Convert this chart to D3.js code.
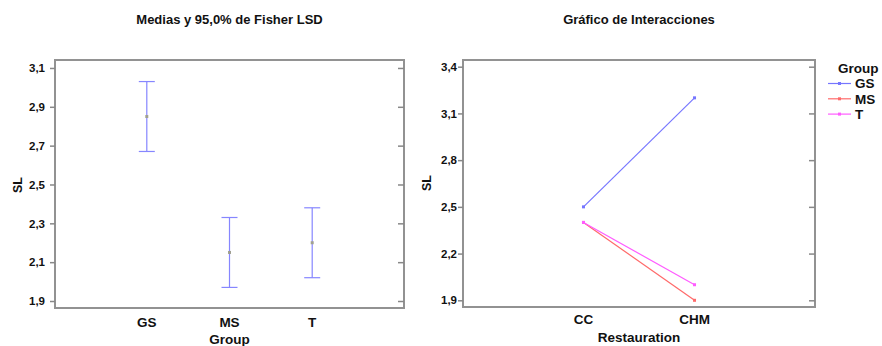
<!DOCTYPE html>
<html>
<head>
<meta charset="utf-8">
<script src="https://cdn.jsdelivr.net/npm/d3@7"></script>
<style>
  body { margin: 0; background: #fff; }
  svg text { font-family: "Liberation Sans", Arial, sans-serif; font-weight: bold; fill: #111; }
</style>
</head>
<body>
<script>
// left panel: means with 95% Fisher LSD intervals
let groups = ["GS", "MS", "T"];
let means = [2.85, 2.15, 2.20];
let lower = [2.67, 1.97, 2.02];
let upper = [3.03, 2.33, 2.38];
let leftTicks = [1.9, 2.1, 2.3, 2.5, 2.7, 2.9, 3.1];

// right panel: interaction plot
let restauration = ["CC", "CHM"];
let seriesNames = ["GS", "MS", "T"];
let gsValues = [2.50, 3.20];
let msValues = [2.40, 1.90];
let tValues = [2.40, 2.00];
let seriesColors = ["#7676ff", "#ff6a6a", "#ff5cff"];
let rightTicks = [1.9, 2.2, 2.5, 2.8, 3.1, 3.4];

let fmt = function(v) { return d3.format(".1f")(v).replace(".", ","); };

let svg = d3.select("body").append("svg")
  .attr("width", 882)
  .attr("height", 346);

function frame(g, w, h, yScale, ticks, labelGap) {
  g.append("rect")
    .attr("width", w).attr("height", h)
    .attr("fill", "none")
    .attr("stroke", "#929292").attr("stroke-width", 2);

  // left ticks outside, right ticks inside
  g.append("g")
    .call(d3.axisLeft(yScale).tickValues(ticks).tickSize(5).tickPadding(labelGap).tickFormat(fmt))
    .call(a => a.select(".domain").remove())
    .call(a => a.selectAll("line").attr("stroke", "#888").attr("stroke-width", 1.5))
    .call(a => a.selectAll("text").style("font-size", "11.5px").attr("fill", "#111"));

  g.append("g")
    .attr("transform", "translate(" + w + ",0)")
    .call(d3.axisLeft(yScale).tickValues(ticks).tickSize(6).tickFormat(""))
    .call(a => a.select(".domain").remove())
    .call(a => a.selectAll("line").attr("stroke", "#888").attr("stroke-width", 1.5));
}

// ---------- left panel ----------
let L = {x: 55, y: 60, w: 349, h: 248};
let gl = svg.append("g").attr("transform", "translate(" + L.x + "," + L.y + ")");

let xL = d3.scalePoint().domain(groups).range([0, L.w]).padding(1.11);
let yL = d3.scaleLinear().domain([1.864, 3.141]).range([L.h, 0]);

frame(gl, L.w, L.h, yL, leftTicks, 5);

groups.forEach(function(g, i) {
  let x = xL(g);
  gl.append("line")
    .attr("x1", x).attr("x2", x)
    .attr("y1", yL(upper[i])).attr("y2", yL(lower[i]))
    .attr("stroke", "#8686ff").attr("stroke-width", 1.2);
  [upper[i], lower[i]].forEach(function(v) {
    gl.append("line")
      .attr("x1", x - 8).attr("x2", x + 8)
      .attr("y1", yL(v)).attr("y2", yL(v))
      .attr("stroke", "#8686ff").attr("stroke-width", 1.2);
  });
  gl.append("rect")
    .attr("x", x - 1.5).attr("y", yL(means[i]) - 1.5)
    .attr("width", 3).attr("height", 3)
    .attr("fill", "#a0a090");
});

gl.selectAll(".cat")
  .data(groups)
  .enter().append("text")
  .attr("x", d => xL(d))
  .attr("y", 267)
  .attr("text-anchor", "middle")
  .style("font-size", "13.5px")
  .text(d => d);

svg.append("text").attr("x", 229.5).attr("y", 343.5)
  .attr("text-anchor", "middle").style("font-size", "13.5px").text("Group");
svg.append("text").attr("x", 229.5).attr("y", 24)
  .attr("text-anchor", "middle").style("font-size", "13px").text("Medias y 95,0% de Fisher LSD");
svg.append("text")
  .attr("transform", "translate(22,185) rotate(270)")
  .attr("text-anchor", "middle").style("font-size", "12.5px").text("SL");

// ---------- right panel ----------
let R = {x: 463, y: 60, w: 352, h: 247};
let gr = svg.append("g").attr("transform", "translate(" + R.x + "," + R.y + ")");

let xR = d3.scalePoint().domain(restauration).range([0, R.w]).padding(1.085);
let yR = d3.scaleLinear().domain([1.857, 3.443]).range([R.h, 0]);

frame(gr, R.w, R.h, yR, rightTicks, 1);

let series = [gsValues, msValues, tValues];
let line = d3.line()
  .x((d, i) => xR(restauration[i]))
  .y(d => yR(d));

series.forEach(function(vals, s) {
  gr.append("path")
    .datum(vals)
    .attr("d", line)
    .attr("fill", "none")
    .attr("stroke", seriesColors[s])
    .attr("stroke-width", 1.2);
  gr.selectAll(".pt" + s)
    .data(vals)
    .enter().append("rect")
    .attr("x", (d, i) => xR(restauration[i]) - 1.5)
    .attr("y", d => yR(d) - 1.5)
    .attr("width", 3).attr("height", 3)
    .attr("fill", seriesColors[s]);
});

gr.selectAll(".cat")
  .data(restauration)
  .enter().append("text")
  .attr("x", d => xR(d))
  .attr("y", 264)
  .attr("text-anchor", "middle")
  .style("font-size", "13.5px")
  .text(d => d);

svg.append("text").attr("x", 639).attr("y", 342)
  .attr("text-anchor", "middle").style("font-size", "13.5px").text("Restauration");
svg.append("text").attr("x", 639).attr("y", 24)
  .attr("text-anchor", "middle").style("font-size", "13px").text("Gráfico de Interacciones");
svg.append("text")
  .attr("transform", "translate(431,183) rotate(270)")
  .attr("text-anchor", "middle").style("font-size", "12.5px").text("SL");

// legend
svg.append("text").attr("x", 838).attr("y", 73).style("font-size", "13.5px").text("Group");
seriesNames.forEach(function(name, i) {
  let y = 83.5 + i * 15.3;
  svg.append("line")
    .attr("x1", 828).attr("x2", 851).attr("y1", y).attr("y2", y)
    .attr("stroke", seriesColors[i]).attr("stroke-width", 1.2);
  svg.append("rect")
    .attr("x", 838).attr("y", y - 1.5).attr("width", 3).attr("height", 3)
    .attr("fill", seriesColors[i]);
  svg.append("text").attr("x", 855).attr("y", y + 4.8)
    .style("font-size", "13.5px").text(name);
});
</script>
</body>
</html>
